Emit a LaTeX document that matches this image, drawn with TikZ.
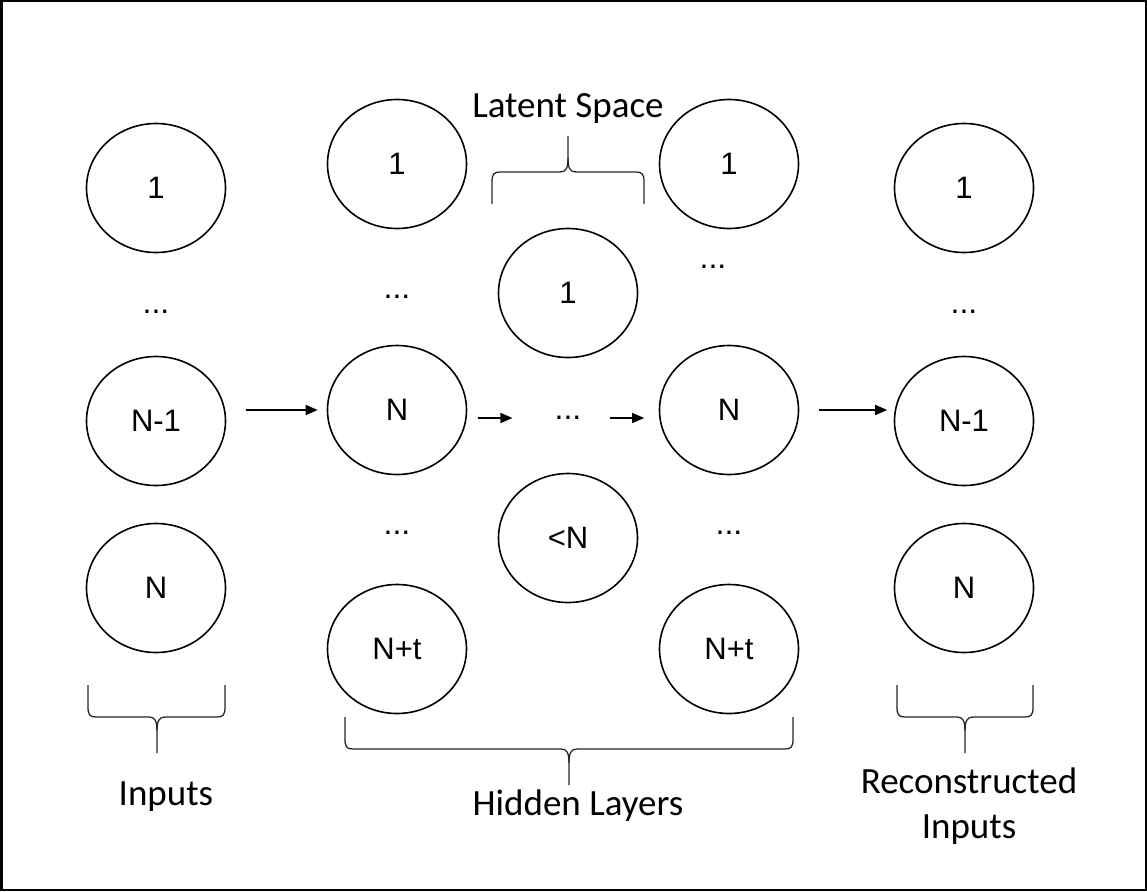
\documentclass[tikz,border=0pt]{standalone}
\usepackage{fontspec}
\setmainfont{Carlito}
\setsansfont{Liberation Sans}
\usetikzlibrary{shapes.geometric,arrows.meta}

\newcommand{\bracepath}[3]{%
  \draw[brace line] (#1,0) -- (#1,22) .. controls (#1,30) and (#1+2,32) .. (#1+8,32) -- (#3-8,32) .. controls (#3-2,32) and (#3,36) .. (#3,46) -- (#3,68);
  \draw[brace line] (#2,0) -- (#2,22) .. controls (#2,30) and (#2-2,32) .. (#2-8,32) -- (#3+8,32) .. controls (#3+2,32) and (#3,36) .. (#3,46);
}

\begin{document}
\begin{tikzpicture}[x=1pt,y=-1pt,>={Triangle[length=12pt,width=10pt]},
    main node/.style={ellipse,draw,line width=1.6pt,minimum width=139pt,minimum height=129pt,inner sep=0pt,font=\sffamily\fontsize{31}{36}\selectfont},
    dots/.style={inner sep=0pt,font=\sffamily\fontsize{32}{36}\selectfont},
    label text/.style={font=\fontsize{37}{45}\selectfont,anchor=base,align=center},
    flow/.style={->,line width=1.5pt},
    brace line/.style={line width=1.3pt,black!85}]
    \useasboundingbox (0,0) rectangle (1147,891);
    \draw[line width=2.5pt] (1.25,1.25) rectangle (1145.75,889.75);

    \node[main node] (i1) at (156,188) {1};
    \node[dots] (i2) at (156,312) {...};
    \node[main node] (i3) at (156,421) {N-1};
    \node[main node] (i4) at (156,588) {N};

    \node[main node] (a1) at (397,164) {1};
    \node[dots] (a2) at (397,297) {...};
    \node[main node] (a3) at (397,410) {N};
    \node[dots] (a4) at (397,533) {...};
    \node[main node] (a5) at (397,649) {N+t};

    \node[main node] (l1) at (568,293) {1};
    \node[dots] (l2) at (568,418) {...};
    \node[main node] (l3) at (568,538) {<N};

    \node[main node] (b1) at (729,164) {1};
    \node[dots] (b2) at (713,267) {...};
    \node[main node] (b3) at (729,410) {N};
    \node[dots] (b4) at (729,533) {...};
    \node[main node] (b5) at (729,649) {N+t};

    \node[main node] (o1) at (964,188) {1};
    \node[dots] (o2) at (964,312) {...};
    \node[main node] (o3) at (964,421) {N-1};
    \node[main node] (o4) at (964,588) {N};

    \draw[flow,shorten <=20pt,shorten >=9pt] (i3.east |- a3) -- (a3);
    \draw[flow,shorten <=10.5pt,shorten >=42pt] (a3.east |- l2) -- (l2.west);
    \draw[flow,shorten <=28pt,shorten >=14.5pt] (l2.east) -- (l2 -| b3.west);
    \draw[flow,shorten <=19.5pt,shorten >=6.5pt] (b3.east) -- (b3 -| o3.west);

    \begin{scope}[shift={(0,685)}]
      \bracepath{88}{225}{157}
    \end{scope}
    \begin{scope}[shift={(0,717)}]
      \bracepath{345}{793}{569}
    \end{scope}
    \begin{scope}[shift={(0,685)}]
      \bracepath{897}{1033}{965}
    \end{scope}
    \begin{scope}[shift={(0,204)},yscale=-1]
      \bracepath{492}{644}{568}
    \end{scope}

    \node[label text] (latent) at (568,117) {Latent Space};
    \node[label text] (inputs) at (166,805) {Inputs};
    \node[label text] (hidden) at (578,815) {Hidden Layers};
    \node[label text] (recon) at (969,838) {Reconstructed\\Inputs};
\end{tikzpicture}
\end{document}
